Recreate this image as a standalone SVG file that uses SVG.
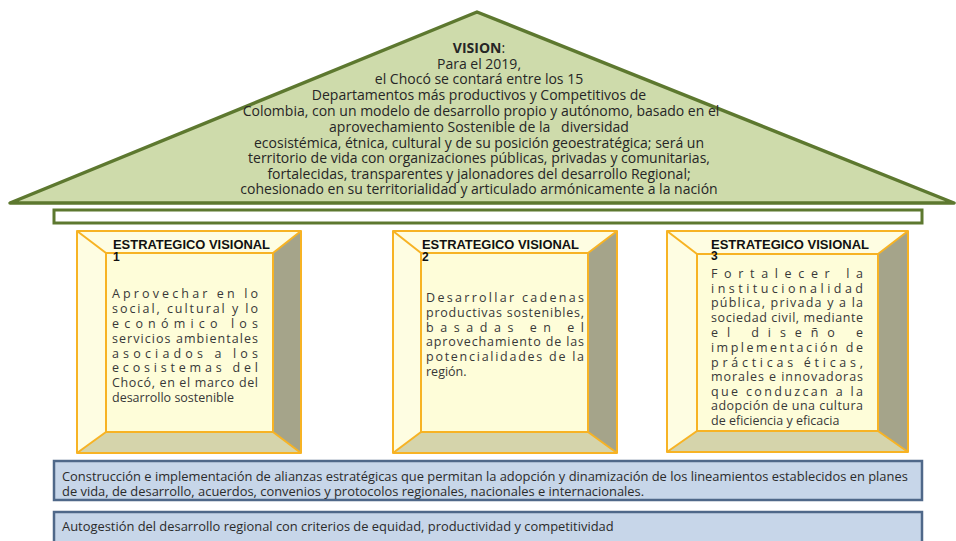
<svg xmlns="http://www.w3.org/2000/svg" width="956" height="541" viewBox="0 0 956 541">
<defs>
<style>
.vis{font-family:"Open Sans","Liberation Sans",sans-serif;font-size:14px;fill:#262626;text-anchor:middle;white-space:pre}
.ttl{font-family:"Liberation Sans",Arial,sans-serif;font-size:12px;font-weight:bold;fill:#111}
.bt{font-family:"Open Sans","Liberation Sans",sans-serif;font-size:12.5px;fill:#383838}
.ft{font-family:"Open Sans","Liberation Sans",sans-serif;font-size:12.9px;fill:#2b2b2b}
.edge{stroke:#f7b324;stroke-width:2;stroke-linejoin:round}
.face{fill:#fefdd9}
.lt{fill:#fefde2}
.rt{fill:#a5a48a}
.bm{fill:#d5d4ab}
.blue{fill:#c7d6e9;stroke:#4f6889;stroke-width:2.5}
</style>
</defs>
<g id="roof">
<polygon points="10,203 477,12 954,203" fill="#cedbab" stroke="#5d782f" stroke-width="3.5" stroke-linejoin="round"/>
<text class="vis" x="479" y="52.5"><tspan font-weight="bold">VISION</tspan>:</text>
<text class="vis" x="479" y="68.5">Para el 2019,</text>
<text class="vis" x="479" y="84">el Chocó se contará entre los 15</text>
<text class="vis" x="479" y="100">Departamentos más productivos y Competitivos de</text>
<text class="vis" x="481" y="116">Colombia, con un modelo de desarrollo propio y autónomo, basado en el</text>
<text class="vis" x="479" y="132" xml:space="preserve">aprovechamiento Sostenible de la   diversidad</text>
<text class="vis" x="479" y="147.5">ecosistémica, étnica, cultural y de su posición geoestratégica; será un</text>
<text class="vis" x="479" y="163">territorio de vida con organizaciones públicas, privadas y comunitarias,</text>
<text class="vis" x="479" y="178.5">fortalecidas, transparentes y jalonadores del desarrollo Regional;</text>
<text class="vis" x="479" y="194">cohesionado en su territorialidad y articulado armónicamente a la nación</text>
</g>
<g id="beam">
<rect x="54" y="210" width="868" height="13" fill="#ffffff" stroke="#5d782f" stroke-width="3"/>
</g>
<g id="pillar1">
<polygon class="lt" points="77,231 301,231 273,253 106,253"/>
<polygon class="lt" points="77,231 106,253 106,432 77,453"/>
<polygon class="rt" points="301,231 301,453 273,432 273,253"/>
<polygon class="bm" points="77,453 106,432 273,432 301,453"/>
<rect class="face" x="106" y="253" width="167" height="179"/>
<rect x="77" y="231" width="224" height="222" fill="none" class="edge"/>
<rect x="106" y="253" width="167" height="179" fill="none" class="edge"/>
<path class="edge" d="M77,231L106,253M301,231L273,253M77,453L106,432M301,453L273,432" fill="none"/>
<text class="ttl" x="113" y="248.5" textLength="157" lengthAdjust="spacingAndGlyphs">ESTRATEGICO VISIONAL</text>
<text class="ttl" x="113" y="260.5">1</text>
<text class="bt" x="112" y="297.5" textLength="146">Aprovechar en lo</text>
<text class="bt" x="112" y="312.5" textLength="146">social, cultural y lo</text>
<text class="bt" x="112" y="327.5" textLength="146">económico los</text>
<text class="bt" x="112" y="342.5" textLength="146">servicios ambientales</text>
<text class="bt" x="112" y="357.5" textLength="146">asociados a los</text>
<text class="bt" x="112" y="371.5" textLength="146">ecosistemas del</text>
<text class="bt" x="112" y="386.5" textLength="146">Chocó, en el marco del</text>
<text class="bt" x="112" y="401.5">desarrollo sostenible</text>
</g>
<g id="pillar2">
<polygon class="lt" points="393,231 617,231 588,253 421,253"/>
<polygon class="lt" points="393,231 421,253 421,432 393,453"/>
<polygon class="rt" points="617,231 617,453 588,432 588,253"/>
<polygon class="bm" points="393,453 421,432 588,432 617,453"/>
<rect class="face" x="421" y="253" width="167" height="179"/>
<rect x="393" y="231" width="224" height="222" fill="none" class="edge"/>
<rect x="421" y="253" width="167" height="179" fill="none" class="edge"/>
<path class="edge" d="M393,231L421,253M617,231L588,253M393,453L421,432M617,453L588,432" fill="none"/>
<text class="ttl" x="422" y="248.5" textLength="157" lengthAdjust="spacingAndGlyphs">ESTRATEGICO VISIONAL</text>
<text class="ttl" x="422" y="260.5">2</text>
<text class="bt" x="426" y="301.5" textLength="158">Desarrollar cadenas</text>
<text class="bt" x="426" y="316.5" textLength="158">productivas sostenibles,</text>
<text class="bt" x="426" y="331.5" textLength="158">basadas en el</text>
<text class="bt" x="426" y="345.5" textLength="158">aprovechamiento de las</text>
<text class="bt" x="426" y="360.5" textLength="158">potencialidades de la</text>
<text class="bt" x="426" y="376">región.</text>
</g>
<g id="pillar3">
<polygon class="lt" points="667,231 908,231 878,254 697,254"/>
<polygon class="lt" points="667,231 697,254 697,431 667,452"/>
<polygon class="rt" points="908,231 908,452 878,431 878,254"/>
<polygon class="bm" points="667,452 697,431 878,431 908,452"/>
<rect class="face" x="697" y="254" width="181" height="177"/>
<rect x="667" y="231" width="241" height="221" fill="none" class="edge"/>
<rect x="697" y="254" width="181" height="177" fill="none" class="edge"/>
<path class="edge" d="M667,231L697,254M908,231L878,254M667,452L697,431M908,452L878,431" fill="none"/>
<text class="ttl" x="711" y="248.5" textLength="158" lengthAdjust="spacingAndGlyphs">ESTRATEGICO VISIONAL</text>
<text class="ttl" x="711" y="259.5">3</text>
<text class="bt" x="711" y="277.5" textLength="152">Fortalecer la</text>
<text class="bt" x="711" y="292.5" textLength="152">institucionalidad</text>
<text class="bt" x="711" y="307" textLength="152">pública, privada y a la</text>
<text class="bt" x="711" y="321.5" textLength="152">sociedad civil, mediante</text>
<text class="bt" x="711" y="337" textLength="152">el diseño e</text>
<text class="bt" x="711" y="352" textLength="152">implementación de</text>
<text class="bt" x="711" y="366.5" textLength="152">prácticas éticas,</text>
<text class="bt" x="711" y="381" textLength="152">morales e innovadoras</text>
<text class="bt" x="711" y="395.5" textLength="152">que conduzcan a la</text>
<text class="bt" x="711" y="410" textLength="152">adopción de una cultura</text>
<text class="bt" x="711" y="425">de eficiencia y eficacia</text>
</g>
<g id="base1">
<rect class="blue" x="54" y="461" width="868" height="39"/>
<text class="ft" x="62" y="481">Construcción e implementación de alianzas estratégicas que permitan la adopción y dinamización de los lineamientos establecidos en planes</text>
<text class="ft" x="62" y="496">de vida, de desarrollo, acuerdos, convenios y protocolos regionales, nacionales e internacionales.</text>
</g>
<g id="base2">
<rect class="blue" x="54" y="512" width="868" height="40"/>
<text class="ft" x="62" y="531">Autogestión del desarrollo regional con criterios de equidad, productividad y competitividad</text>
</g>
<g id="connectors"/>
</svg>
